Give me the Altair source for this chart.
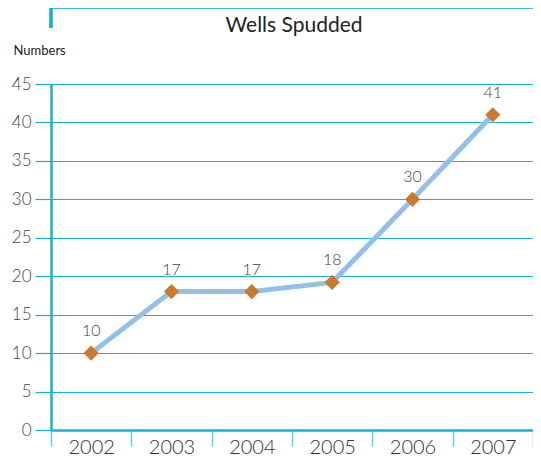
import altair as alt
import pandas as pd

years = ["2002", "2003", "2004", "2005", "2006", "2007"]
values = [10, 18, 18, 19.2, 30, 41]
labels = ["10", "17", "17", "18", "30", "41"]
chart_title = "Wells Spudded"

df = pd.DataFrame({"year": years, "value": values, "label": labels})

CYAN = "#1aaed3"
LIGHT_CYAN = "#6cc9e0"
W = 482
H = 346

x_enc = alt.X(
    "year:N",
    scale=alt.Scale(paddingInner=0, paddingOuter=0),
    axis=alt.Axis(
        title=None,
        labelAngle=0,
        labelFont="Lato",
        labelFontWeight=300,
        labelFontSize=20,
        labelColor="#333333",
        labelPadding=-9,
        labelBaseline="top",
        tickBand="extent",
        tickSize=16,
        tickColor=LIGHT_CYAN,
        tickWidth=1.5,
        domainColor=CYAN,
        domainWidth=2.5,
        grid=False,
    ),
)
y_enc = alt.Y(
    "value:Q",
    scale=alt.Scale(domain=[0, 45], nice=False),
    axis=alt.Axis(
        values=list(range(0, 50, 5)),
        title="Numbers",
        titleAngle=0,
        titleX=-38,
        titleY=-34,
        titleAlign="left",
        titleBaseline="middle",
        titleFont="Lato",
        titleFontWeight=400,
        titleFontSize=13,
        titleColor="#222222",
        labelFont="Lato",
        labelFontWeight=300,
        labelFontSize=17,
        labelColor="#444444",
        labelPadding=4,
        tickSize=16,
        tickColor=CYAN,
        tickWidth=1.2,
        domainColor=CYAN,
        domainWidth=2.5,
        grid=True,
        gridColor=CYAN,
        gridWidth=1.2,
    ),
)

base = alt.Chart(df).encode(x=x_enc, y=y_enc)

line = base.mark_line(color="#93c0e8", strokeWidth=5)
pts = base.mark_point(shape="diamond", filled=True, size=230, color="#c97a2e", opacity=1)
txt = base.mark_text(dy=-22, font="Lato", fontWeight=300, fontSize=16, color="#444444").encode(text="label:N")

frame_top = alt.Chart(df).mark_rule(color=CYAN, strokeWidth=2.5).encode(
    x=alt.value(0), x2=alt.value(W + 2), y=alt.value(-77)
)
frame_left = alt.Chart(df).mark_rule(color=CYAN, strokeWidth=2.5).encode(
    x=alt.value(0), y=alt.value(-78), y2=alt.value(-56)
)
title_txt = alt.Chart(df).transform_filter("datum.year == '2002'").mark_text(
    font="Lato", fontSize=21, color="#222222", align="center", baseline="middle"
).encode(x=alt.value(W / 2 + 2), y=alt.value(-58), text=alt.value(chart_title))

chart = (
    alt.layer(frame_top, frame_left, title_txt, line, pts, txt)
    .properties(
        width=W,
        height=H,
        padding={"left": 43, "top": 76, "right": 0, "bottom": 30},
        autosize=alt.AutoSizeParams(type="none"),
    )
    .configure_view(stroke=None)
)

chart.save("out.html", embed_options={"renderer": "svg", "actions": False})
